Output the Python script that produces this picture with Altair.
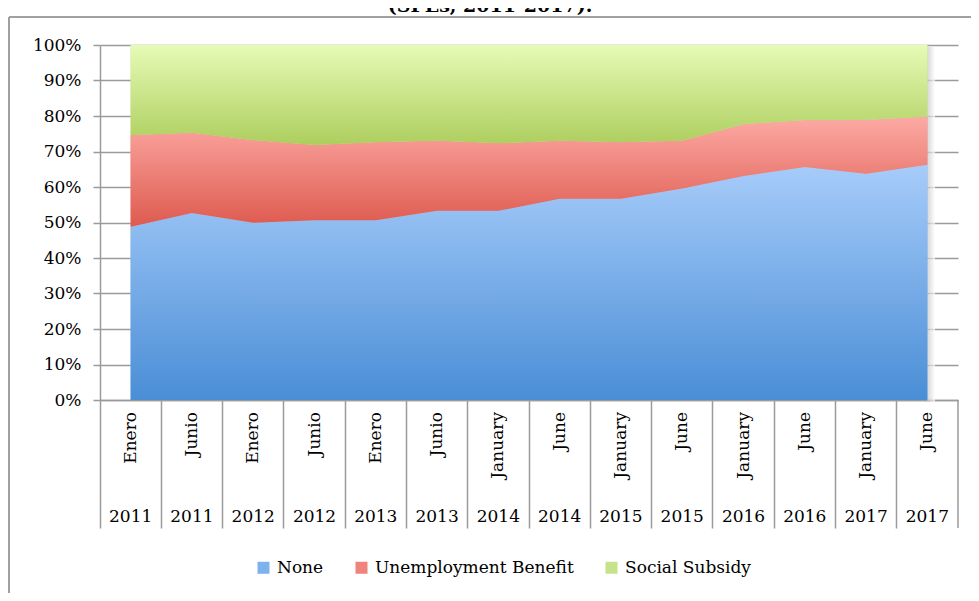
import altair as alt
import pandas as pd

months = ["Enero", "Junio", "Enero", "Junio", "Enero", "Junio", "January", "June",
          "January", "June", "January", "June", "January", "June"]
years = ["2011", "2011", "2012", "2012", "2013", "2013", "2014", "2014",
         "2015", "2015", "2016", "2016", "2017", "2017"]
series = ["None", "Unemployment Benefit", "Social Subsidy"]
none_vals = [48.8, 52.7, 49.9, 50.6, 50.6, 53.3, 53.3, 56.7, 56.7, 59.6, 63.1, 65.6, 63.7, 66.3]
unemp_vals = [25.8, 22.6, 23.3, 21.2, 22.0, 19.7, 19.0, 16.3, 15.9, 13.4, 14.6, 13.2, 15.2, 13.5]
social_vals = [25.4, 24.7, 26.8, 28.2, 27.4, 27.0, 27.7, 27.0, 27.4, 27.0, 22.3, 21.2, 21.1, 20.2]
y_ticks = [0, 10, 20, 30, 40, 50, 60, 70, 80, 90, 100]
title_text = "(SPEs, 2011-2017)."

keys = [f"{m} {y}" for m, y in zip(months, years)]
rows = []
for i, k in enumerate(keys):
    for j, (s, vals) in enumerate(zip(series, [none_vals, unemp_vals, social_vals])):
        rows.append({"key": k, "series": s, "order": j, "value": vals[i]})
df = pd.DataFrame(rows)
labels_df = pd.DataFrame({"key": keys, "month": months, "year": years})
one = pd.DataFrame({"a": [0]})

FONT = "DejaVu Serif"
GRID = "#9b9b9b"
legend_colors = ["#7eb2ee", "#ee847b", "#c6e38c"]
grads = {
    "None": ("#a7ccfa", "#4a8ed6"),
    "Unemployment Benefit": ("#fcaaa4", "#de5a4f"),
    "Social Subsidy": ("#e6fbb6", "#adce5e"),
}


def grad(top, bottom, horizontal=False):
    return alt.Gradient(
        gradient="linear",
        stops=[alt.GradientStop(color=top, offset=0), alt.GradientStop(color=bottom, offset=1)],
        x1=0, x2=1 if horizontal else 0, y1=0, y2=0 if horizontal else 1,
    )


x_enc = alt.X(
    "key:N", sort=keys, bandPosition=0.5,
    scale=alt.Scale(type="band", paddingInner=0, paddingOuter=0),
    axis=alt.Axis(labels=False, ticks=True, tickSize=128, bandPosition=0, domain=True,
                  domainColor=GRID, tickColor=GRID, domainWidth=1.5, tickWidth=1.5,
                  title=None, grid=False),
)
y_enc = alt.Y(
    "y1:Q", scale=alt.Scale(domain=[0, 100], nice=False, zero=True),
    axis=alt.Axis(values=y_ticks, labelExpr="datum.value + '%'", title=None, grid=True,
                  gridColor=GRID, gridWidth=1.5, tickSize=7, tickColor=GRID, tickWidth=1.5,
                  domainColor=GRID, domainWidth=1.5, labelPadding=12),
)

base = alt.Chart(df).transform_stack(
    stack="value", groupby=["key"], as_=["y0", "y1"],
    sort=[alt.SortField("order", order="ascending")],
)

# soft drop shadow to the right of the plotted area
shadow = alt.Chart(one).mark_rect(fill=grad("#c4c4c4", "#ffffff", horizontal=True),
                                  opacity=0.7).encode(
    x=alt.value(827), x2=alt.value(835), y=alt.value(2), y2=alt.value(357))

bg = base.mark_area(interpolate="linear").encode(
    x=x_enc, y=y_enc, y2="y0:Q",
    color=alt.Color("series:N", scale=alt.Scale(domain=series, range=legend_colors),
                    legend=alt.Legend(orient="none", legendX=155, legendY=514,
                                      direction="horizontal", symbolType="square",
                                      symbolSize=144, symbolStrokeWidth=0,
                                      labelFont=FONT, labelFontSize=17, labelColor="black",
                                      columnPadding=29, labelOffset=5, padding=0,
                                      title=None, labelLimit=400)),
)

layers = [shadow, bg]
for s in series:
    top, bottom = grads[s]
    layers.append(
        base.transform_filter(alt.datum.series == s)
        .mark_area(interpolate="linear", fill=grad(top, bottom))
        .encode(x=x_enc, y=y_enc, y2="y0:Q")
    )

month_text = alt.Chart(labels_df).mark_text(
    angle=270, align="right", baseline="middle", font=FONT, fontSize=17, color="black"
).encode(x=x_enc, y=alt.value(367), text="month:N")

year_text = alt.Chart(labels_df).mark_text(
    align="center", baseline="alphabetic", font=FONT, fontSize=17, color="black"
).encode(x=x_enc, y=alt.value(477), text="year:N")

right_sep = alt.Chart(one).mark_rule(color=GRID, strokeWidth=1.5).encode(
    x=alt.value(858), y=alt.value(355), y2=alt.value(483))

border_left = alt.Chart(one).mark_rule(color="#a0a0a0", strokeWidth=2).encode(
    x=alt.value(-91), y=alt.value(-28), y2=alt.value(600))
border_top = alt.Chart(one).mark_rule(color="#a0a0a0", strokeWidth=2).encode(
    x=alt.value(-91), x2=alt.value(960), y=alt.value(-28))

title = alt.Chart(pd.DataFrame({"t": [title_text]})).mark_text(
    align="center", baseline="alphabetic", font=FONT, fontSize=19, fontWeight="bold",
    color="black"
).encode(x=alt.value(390), y=alt.value(-33), text="t:N")

chart = alt.layer(
    *layers, month_text, year_text, right_sep, border_left, border_top, title
).properties(
    width=858, height=355,
    autosize=alt.AutoSizeParams(type="none"),
    padding={"left": 92, "top": 37, "right": 13, "bottom": 193},
    background="white",
).configure_view(stroke=None).configure_axis(
    labelFont=FONT, labelFontSize=17, labelColor="black"
)

chart.save("out.html", embed_options={"renderer": "svg", "actions": False})
